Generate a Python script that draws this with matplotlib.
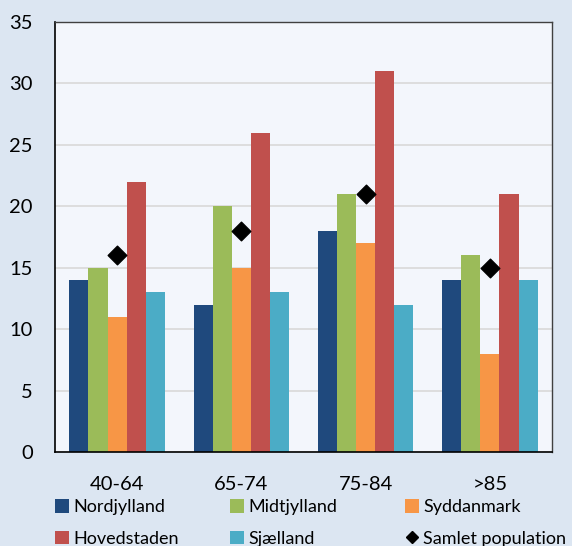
import matplotlib
matplotlib.use("Agg")
import matplotlib.pyplot as plt
from matplotlib.lines import Line2D
from matplotlib.patches import Patch
import numpy as np

plt.rcParams['font.family'] = ['Lato', 'DejaVu Sans']

categories = ["40-64", "65-74", "75-84", ">85"]
regions = ["Nordjylland", "Midtjylland", "Syddanmark", "Hovedstaden", "Sjælland"]
nordjylland = [14, 12, 18, 14]
midtjylland = [15, 20, 21, 16]
syddanmark = [11, 15, 17, 8]
hovedstaden = [22, 26, 31, 21]
sjaelland = [13, 13, 12, 14]
samlet = [16, 18, 21, 15]
yticks = [0, 5, 10, 15, 20, 25, 30, 35]

series = [nordjylland, midtjylland, syddanmark, hovedstaden, sjaelland]
colors = ["#1F497D", "#9BBB59", "#F79646", "#C0504D", "#4BACC6"]

W, H = 572, 546
fig = plt.figure(figsize=(W / 100, H / 100), dpi=100, facecolor="#DCE6F2")
ax = fig.add_axes([55 / W, 1 - 452 / H, 497 / W, 430 / H])
ax.set_facecolor("#F3F6FC")

x = np.arange(len(categories))
w = 0.154
for i, (vals, c) in enumerate(zip(series, colors)):
    ax.bar(x + (i - 2) * w, vals, width=w, color=c, zorder=2)

ax.scatter(x, samlet, marker="D", s=90, color="black", zorder=3)

ax.set_xlim(-0.5, len(categories) - 0.5)
ax.set_ylim(0, 35)
ax.set_yticks(yticks)
ax.set_xticks(x)
ax.set_xticklabels(categories)
ax.tick_params(axis="both", length=0, labelsize=14.5, colors="black")
ax.tick_params(axis="x", pad=17)
ax.tick_params(axis="y", pad=16)
ax.yaxis.grid(True, color="#D9D9D9", linewidth=1.2, zorder=0)
ax.set_axisbelow(True)
for s in ["top", "right"]:
    ax.spines[s].set_color("#404040")
    ax.spines[s].set_linewidth(1.0)
ax.spines["left"].set_color("black")
ax.spines["bottom"].set_color("black")
ax.spines["left"].set_linewidth(1.2)
ax.spines["bottom"].set_linewidth(1.2)

handles = [Patch(facecolor=c, edgecolor="none") for c in colors]
handles.append(Line2D([], [], marker="D", color="black", linestyle="none", markersize=6.5))
labels = regions + ["Samlet population"]

# legend laid out on a fixed three-column grid below the plot
columns = [(0, 3), (1, 4), (2, 5)]
col_x = [55, 230, 405]
for (a, b), cx in zip(columns, col_x):
    fig.legend([handles[a], handles[b]], [labels[a], labels[b]],
               loc="lower left", bbox_to_anchor=(cx / W, -0.001),
               frameon=False, fontsize=13, handlelength=0.75, handleheight=0.75,
               handletextpad=0.25, labelspacing=0.85, borderpad=0,
               borderaxespad=0)

fig.savefig("out.png", dpi=100, facecolor=fig.get_facecolor())
